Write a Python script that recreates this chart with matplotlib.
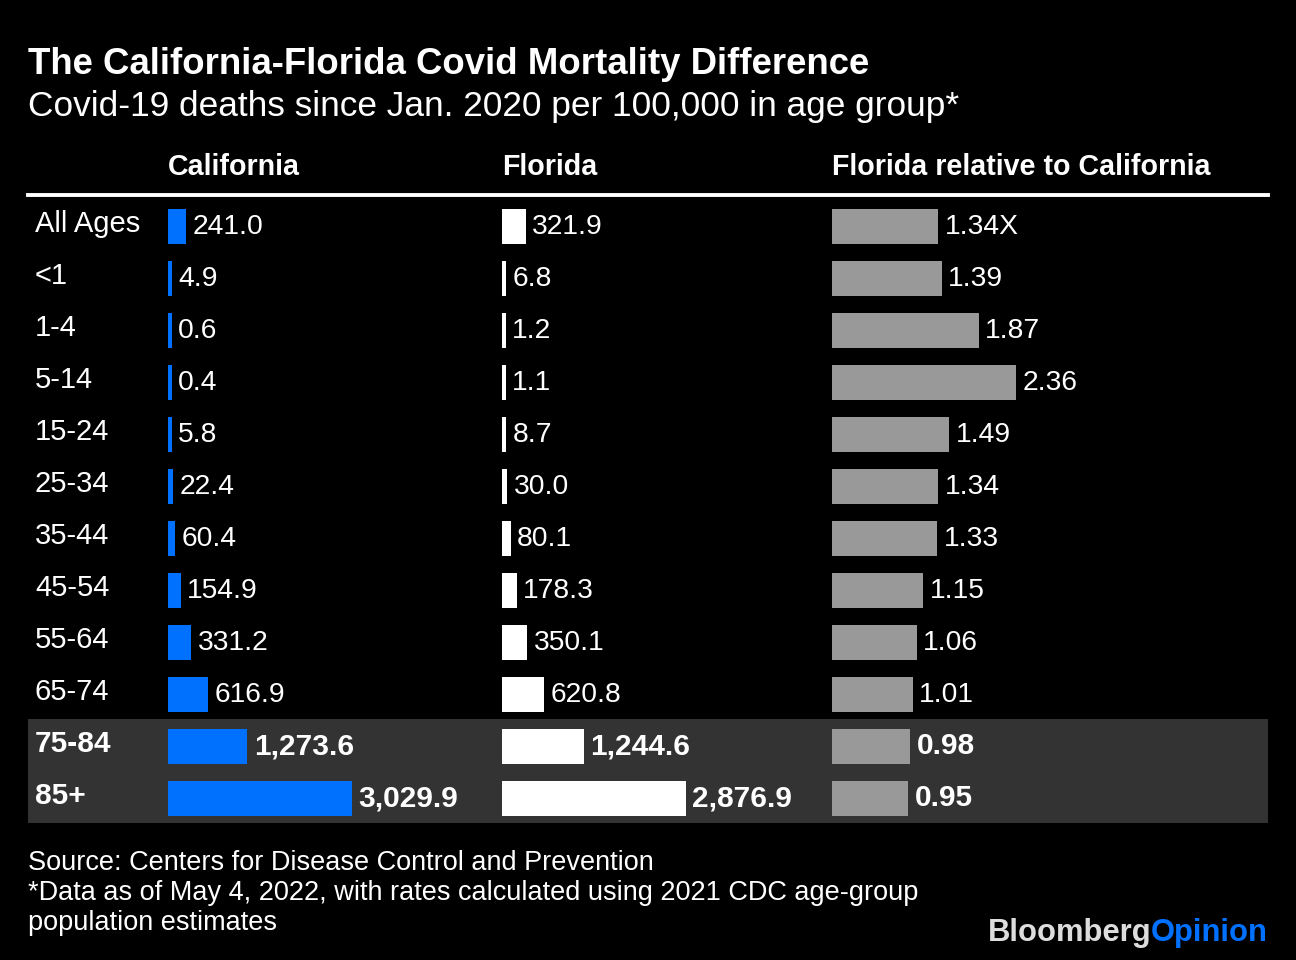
import matplotlib
matplotlib.use("Agg")
import matplotlib.pyplot as plt
import matplotlib.transforms as mtransforms
from matplotlib.patches import Rectangle
from matplotlib.lines import Line2D
import numpy as np

plt.rcParams['font.family'] = ['Liberation Sans', 'DejaVu Sans']

# ---------------- data ----------------
age_groups = ["All Ages", "<1", "1-4", "5-14", "15-24", "25-34", "35-44",
              "45-54", "55-64", "65-74", "75-84", "85+"]
california = [241.0, 4.9, 0.6, 0.4, 5.8, 22.4, 60.4, 154.9, 331.2, 616.9, 1273.6, 3029.9]
florida = [321.9, 6.8, 1.2, 1.1, 8.7, 30.0, 80.1, 178.3, 350.1, 620.8, 1244.6, 2876.9]
ratio = [1.34, 1.39, 1.87, 2.36, 1.49, 1.34, 1.33, 1.15, 1.06, 1.01, 0.98, 0.95]
ratio_labels = ["1.34X", "1.39", "1.87", "2.36", "1.49", "1.34", "1.33",
                "1.15", "1.06", "1.01", "0.98", "0.95"]
highlight_rows = ["75-84", "85+"]
col_titles = ["California", "Florida", "Florida relative to California"]

title = "The California-Florida Covid Mortality Difference"
subtitle = "Covid-19 deaths since Jan. 2020 per 100,000 in age group*"
notes = ["Source: Centers for Disease Control and Prevention",
         "*Data as of May 4, 2022, with rates calculated using 2021 CDC age-group",
         "population estimates"]

# ---------------- style ----------------
W, H = 1296, 960
BG = "#000000"
BLUE = "#0070FF"
GRAY_BAR = "#999999"
BAND = "#333333"
FS_LABEL = 21
FS_LABEL_BOLD = 21.5
FS_VALUE = 20.3
FS_VALUE_BOLD = 21.5
ROW_PX = 52

fig = plt.figure(figsize=(W / 100, H / 100), dpi=100, facecolor=BG)


def fx(px):
    return px / W


def fy(py):
    return 1 - py / H


n = len(age_groups)
rows = np.arange(n)
top_px = 200
bot_px = top_px + ROW_PX * n

col_left = [168, 502, 832]
col_colors = [BLUE, "#FFFFFF", GRAY_BAR]
col_data = [california, florida, ratio]
col_labels = [[f"{v:,.1f}" for v in california],
              [f"{v:,.1f}" for v in florida],
              ratio_labels]
bar_px = 184
stub_px = 3.5
axw_px = 320

axes = []
for left, color, vals, labs in zip(col_left, col_colors, col_data, col_labels):
    ax = fig.add_axes([fx(left), fy(bot_px), fx(axw_px), (bot_px - top_px) / H])
    ax.patch.set_visible(False)
    vals = np.asarray(vals, dtype=float)
    s = (bar_px - stub_px) / vals.max()     # px per data unit
    stub = stub_px / s
    ax.set_xlim(-stub, -stub + axw_px / s)
    ax.set_ylim(n - 0.5, -0.5)
    ax.barh(rows, vals + stub, left=-stub, height=35 / ROW_PX, color=color, zorder=3)
    for i, (v, lab) in enumerate(zip(vals, labs)):
        bold = age_groups[i] in highlight_rows
        ax.annotate(lab, (v, i + 8.5 / ROW_PX), xytext=(4.6, 0),
                    textcoords="offset points", ha="left", va="baseline",
                    color="white",
                    fontsize=FS_VALUE_BOLD if bold else FS_VALUE,
                    fontweight="bold" if bold else "normal", zorder=4)
    ax.axis("off")
    axes.append(ax)

ax0 = axes[0]
blend = mtransforms.blended_transform_factory(fig.transFigure, ax0.transData)

# highlighted band
idx = [age_groups.index(r) for r in highlight_rows]
band = Rectangle((fx(28), min(idx) - 0.5 - 1.5 / ROW_PX), fx(1268) - fx(28), len(idx),
                 transform=blend, facecolor=BAND, edgecolor="none", zorder=0)
fig.add_artist(band)

# row labels
for i, g in enumerate(age_groups):
    bold = g in highlight_rows
    fig.text(fx(35), i + 6 / ROW_PX, g, transform=blend, ha="left", va="baseline",
             color="white", fontsize=FS_LABEL_BOLD if bold else FS_LABEL,
             fontweight="bold" if bold else "normal")

# column headers
for left, t in zip(col_left, col_titles):
    fig.text(fx(left), fy(175), t, ha="left", va="baseline", color="white",
             fontsize=20.6, fontweight="bold")

# header rule
fig.add_artist(Line2D([fx(28), fx(1268)], [fy(195.3), fy(195.3)], color="white",
                      linewidth=2.8, transform=fig.transFigure))

# title / subtitle
fig.text(fx(28), fy(73.5), title, ha="left", va="baseline", color="white",
         fontsize=26.4, fontweight="bold")
fig.text(fx(28), fy(116), subtitle, ha="left", va="baseline", color="white",
         fontsize=25.4)

# notes
for k, line in enumerate(notes):
    fig.text(fx(28), fy(869.5 + 30 * k), line, ha="left", va="baseline",
             color="white", fontsize=19.5)

# logo
t1 = fig.text(fx(1268), fy(941.5), "Opinion", ha="right", va="baseline",
              color=BLUE, fontsize=22.3, fontweight="bold")
fig.canvas.draw()
bb = t1.get_window_extent()
fig.text(bb.x0 / W, fy(941.5), "Bloomberg", ha="right", va="baseline",
         color="#DDDDDD", fontsize=22.3, fontweight="bold")

fig.savefig("out.png", dpi=100, facecolor=BG)
